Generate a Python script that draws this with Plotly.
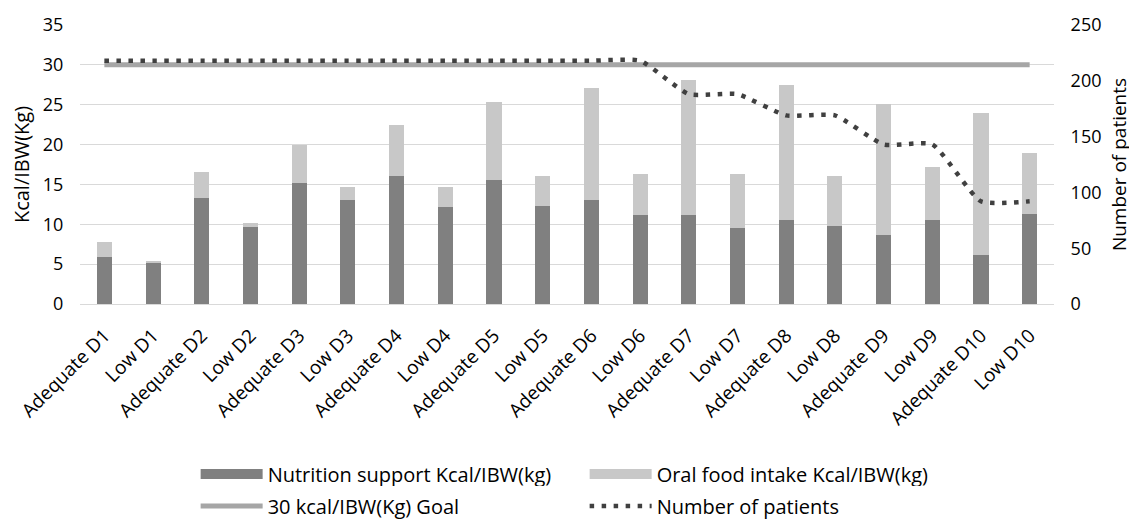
import plotly.graph_objects as go

categories = ["Adequate D1", "Low D1", "Adequate D2", "Low D2", "Adequate D3", "Low D3",
              "Adequate D4", "Low D4", "Adequate D5", "Low D5", "Adequate D6", "Low D6",
              "Adequate D7", "Low D7", "Adequate D8", "Low D8", "Adequate D9", "Low D9",
              "Adequate D10", "Low D10"]

nutrition_support = [5.9, 5.2, 13.3, 9.6, 15.2, 13.1, 16.0, 12.2, 15.5, 12.3,
                     13.0, 11.2, 11.2, 9.5, 10.6, 9.8, 8.6, 10.5, 6.2, 11.3]
total_intake = [7.8, 5.4, 16.5, 10.2, 20.0, 14.7, 22.5, 14.7, 25.4, 16.1,
                27.1, 16.3, 28.1, 16.3, 27.5, 16.0, 25.1, 17.2, 23.9, 18.9]
oral_intake = [round(t - n, 2) for t, n in zip(total_intake, nutrition_support)]
goal = [30] * len(categories)
patients = [218, 218, 218, 218, 218, 218, 218, 218, 218, 218, 218, 218,
            188, 188, 169, 169, 143, 143, 92, 92]

left_ticks = [0, 5, 10, 15, 20, 25, 30, 35]
right_ticks = [0, 50, 100, 150, 200, 250]

FONT = "Open Sans"
DARK = "#808080"
LIGHT = "#c8c8c8"

fig = go.Figure()
fig.add_trace(go.Bar(x=categories, y=nutrition_support, name="Nutrition support Kcal/IBW(kg)",
                     marker=dict(color=DARK, line=dict(width=0)), showlegend=False,
                     legendgroup="ns"))
fig.add_trace(go.Bar(x=categories, y=oral_intake, name="Oral food intake Kcal/IBW(kg)",
                     marker=dict(color=LIGHT, line=dict(width=0)), showlegend=False,
                     legendgroup="oral"))
# legend keys for the bar series (wide swatches, as in the original)
fig.add_trace(go.Scatter(x=[None], y=[None], mode="lines", name="Nutrition support Kcal/IBW(kg)",
                         line=dict(color=DARK, width=11), legend="legend", legendgroup="ns",
                         hoverinfo="skip"))
fig.add_trace(go.Scatter(x=[None], y=[None], mode="lines", name="Oral food intake Kcal/IBW(kg)",
                         line=dict(color=LIGHT, width=11), legend="legend", legendgroup="oral",
                         hoverinfo="skip"))
fig.add_trace(go.Scatter(x=categories, y=goal, name="30 kcal/IBW(Kg) Goal", mode="lines",
                         line=dict(color="#a6a6a6", width=5), legend="legend2"))
fig.add_trace(go.Scatter(x=categories, y=patients, name="Number of patients", mode="lines",
                         line=dict(color="#404040", width=4.5, dash="4.5px,7.5px", shape="spline",
                                   smoothing=0.5),
                         yaxis="y2", legend="legend2"))

# the page body adds an 8px offset; the figure is sized to fill the rest of the window
fig.update_layout(
    width=1129, height=516,
    margin=dict(l=72, r=83, t=17, b=220, autoexpand=False),
    barmode="stack", bargap=0.69,
    plot_bgcolor="white", paper_bgcolor="white",
    font=dict(family=FONT, size=18, color="black"),
    xaxis=dict(type="category", tickangle=-45, showgrid=False, showline=False,
               ticks="outside", ticklen=12, tickcolor="rgba(0,0,0,0)",
               tickfont=dict(size=19)),
    yaxis=dict(range=[0, 35], tickvals=left_ticks, showgrid=True, gridcolor="#d9d9d9", gridwidth=1.3,
               zeroline=True, zerolinecolor="#d9d9d9", zerolinewidth=1.3,
               tickfont=dict(size=18),
               title=dict(text="Kcal/IBW(Kg)", standoff=8, font=dict(size=20)),
               ticks="outside", ticklen=12, tickcolor="rgba(0,0,0,0)"),
    yaxis2=dict(range=[0, 250], tickvals=right_ticks, overlaying="y", side="right", showgrid=False,
                zeroline=False, tickfont=dict(size=18),
                title=dict(text="Number of patients", standoff=12, font=dict(size=19)),
                ticks="outside", ticklen=12, tickcolor="rgba(0,0,0,0)"),
    legend=dict(orientation="h", xref="container", yref="container", x=0.1662, y=0.097,
                xanchor="left", yanchor="middle", entrywidth=312, entrywidthmode="pixels",
                itemwidth=62, font=dict(size=20), traceorder="normal"),
    legend2=dict(orientation="h", xref="container", yref="container", x=0.1662, y=0.035,
                 xanchor="left", yanchor="middle", entrywidth=312, entrywidthmode="pixels",
                 itemwidth=62, font=dict(size=20), traceorder="normal"),
)

fig.write_html("out.html")
